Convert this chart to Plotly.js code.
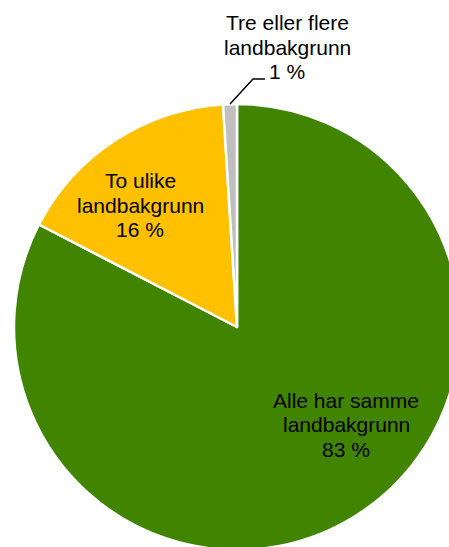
<!DOCTYPE html>
<html>
<head>
<meta charset="utf-8">
<script src="https://cdn.plot.ly/plotly-3.0.1.min.js"></script>
<style>
html, body { margin:0; padding:0; overflow:hidden; background:#fff; width:449px; height:547px; }
#chart { width:474px; height:560px; }
</style>
</head>
<body>
<div id="chart"></div>
<script>
// Data
const categories = ["Alle har samme landbakgrunn", "To ulike landbakgrunn", "Tre eller flere landbakgrunn"];
const labelLines = [["Alle har samme", "landbakgrunn"], ["To ulike", "landbakgrunn"], ["Tre eller flere", "landbakgrunn"]];
const shares = [82.6, 16.4, 1.0];
const colors = ["#408400", "#FFC000", "#BFBFBF"];

// Layout geometry (pixels in the plot div)
const W = 474, H = 560;
const cx = 237, cy = 327, R = 223;
const px = x => x / W;
const py = y => 1 - y / H;
const lineGap = 24.5;

// centre of the middle line of each label
const labelPos = [[346, 424.5], [140, 205], [287, 47]];

const total = shares.reduce((a, b) => a + b, 0);
const annotations = [];
categories.forEach((c, i) => {
  const lines = labelLines[i].concat([Math.round(shares[i] / total * 100) + ' %']);
  lines.forEach((t, k) => {
    annotations.push({
      xref: 'paper', yref: 'paper',
      x: px(labelPos[i][0]), y: py(labelPos[i][1] + (k - 1) * lineGap),
      xanchor: 'center', yanchor: 'middle',
      text: t,
      showarrow: false,
      font: { family: 'Liberation Sans, Arial, sans-serif', size: 21, color: '#000' }
    });
  });
});

// Leader line for the smallest slice, starting at its mid-angle on the rim
const before = shares[0] + shares[1];
const theta = ((before + shares[2] / 2) / total) * 2 * Math.PI; // clockwise from 12 o'clock
const sx = cx + R * Math.sin(theta), sy = cy - R * Math.cos(theta);
const shapes = [{
  type: 'path', xref: 'paper', yref: 'paper',
  path: `M ${px(sx)} ${py(sy)} L ${px(253)} ${py(79)} L ${px(265)} ${py(79)}`,
  line: { color: '#000', width: 1.5 }
}];

const trace = {
  type: 'pie',
  labels: categories,
  values: shares,
  sort: false,
  direction: 'clockwise',
  rotation: 0,
  textinfo: 'none',
  hoverinfo: 'none',
  marker: { colors: colors, line: { color: '#ffffff', width: 2.5 } },
  domain: { x: [px(cx - R), px(cx + R)], y: [py(cy + R), py(cy - R)] }
};

Plotly.newPlot('chart', [trace], {
  width: W, height: H,
  margin: { l: 0, r: 0, t: 0, b: 0 },
  showlegend: false,
  paper_bgcolor: '#fff',
  annotations: annotations,
  shapes: shapes
}, { staticPlot: true });
</script>
</body>
</html>
